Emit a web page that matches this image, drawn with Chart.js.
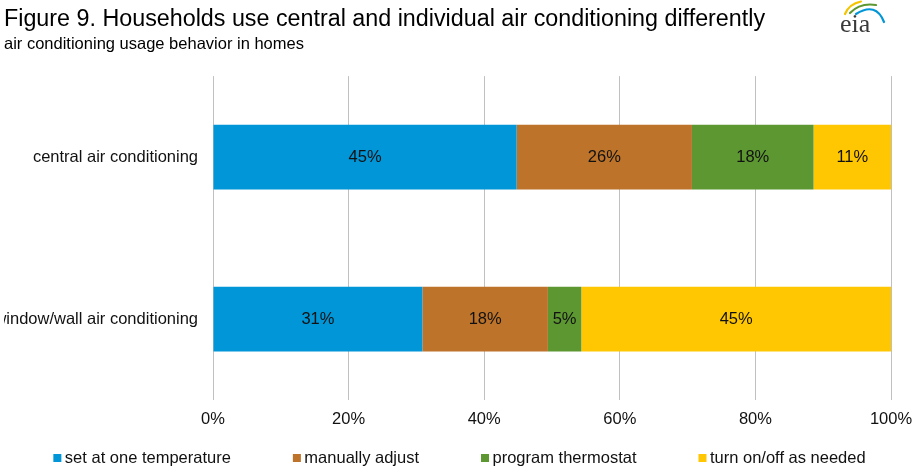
<!DOCTYPE html>
<html>
<head>
<meta charset="utf-8">
<script src="https://cdn.jsdelivr.net/npm/chart.js@4.4.1/dist/chart.umd.min.js"></script>
<style>
  html, body { margin: 0; padding: 0; background: #fff; }
  #wrap { width: 915px; height: 475px; }
</style>
</head>
<body>
<div id="wrap"><canvas id="acChart" width="915" height="475"></canvas></div>
<script>
// values (percent of households)
const categories = ["central air conditioning", "window/wall air conditioning"];
const setOneTemp = [44.7, 30.7];
const manualAdjust = [25.8, 18.4];
const programThermostat = [17.9, 4.9];
const turnOnOff = [11.4, 45.4];
const xTickValues = [0, 20, 40, 60, 80, 100];

const seriesNames = ["set at one temperature", "manually adjust", "program thermostat", "turn on/off as needed"];
const seriesValues = [setOneTemp, manualAdjust, programThermostat, turnOnOff];
const seriesColors = ["#0096d7", "#bd732a", "#5d9732", "#ffc702"];

const FONT = "'Liberation Sans', Arial, sans-serif";
const TXT = "#111";

// 100% stacked: each bar is drawn as share of its row total
const totals = categories.map((c, i) => seriesValues.reduce((s, arr) => s + arr[i], 0));

const datasets = seriesValues.map((vals, k) => ({
  label: seriesNames[k],
  data: vals.map((v, i) => v / totals[i] * 100),
  raw: vals,
  backgroundColor: seriesColors[k],
  borderWidth: 0,
  categoryPercentage: 1,
  barPercentage: 0.4
}));

// labels inside the bar segments
const barLabels = {
  id: "barLabels",
  afterDatasetsDraw(chart) {
    const ctx = chart.ctx;
    ctx.save();
    ctx.font = "16.5px " + FONT;
    ctx.fillStyle = TXT;
    ctx.textAlign = "center";
    ctx.textBaseline = "middle";
    chart.data.datasets.forEach((ds, k) => {
      chart.getDatasetMeta(k).data.forEach((bar, i) => {
        ctx.fillText(Math.round(ds.raw[i]) + "%", (bar.x + bar.base) / 2, bar.y);
      });
    });
    ctx.restore();
  }
};

// legend row at the bottom, spaced like the original
const bottomLegend = {
  id: "bottomLegend",
  afterDraw(chart) {
    const ctx = chart.ctx;
    ctx.save();
    ctx.font = "16.5px " + FONT;
    ctx.textBaseline = "middle";
    const gap = 62, box = 8, boxGap = 3.5, y = 458;
    const widths = chart.data.datasets.map(ds => box + boxGap + ctx.measureText(ds.label).width);
    const total = widths.reduce((a, b) => a + b, 0) + gap * (widths.length - 1);
    let x = 459.5 - total / 2;
    chart.data.datasets.forEach((ds, k) => {
      ctx.fillStyle = ds.backgroundColor;
      ctx.fillRect(x, y - box / 2, box, box);
      ctx.fillStyle = TXT;
      ctx.textAlign = "left";
      ctx.fillText(ds.label, x + box + boxGap, y);
      x += widths[k] + gap;
    });
    ctx.restore();
  }
};

// small eia mark, top right
const eiaMark = {
  id: "eiaMark",
  afterDraw(chart) {
    const ctx = chart.ctx;
    ctx.save();
    ctx.lineCap = "round";
    const arcs = [
      ["#f5c400", [845, 14], [849, 4], [861, 1.5]],
      ["#5d9732", [850, 13], [860, 2.5], [876, 5]],
      ["#0096d7", [856, 14], [876, 1.5], [884, 22]]
    ];
    arcs.forEach(([col, a, c, b]) => {
      ctx.strokeStyle = col;
      ctx.lineWidth = 2.2;
      ctx.beginPath();
      ctx.moveTo(a[0], a[1]);
      ctx.quadraticCurveTo(c[0], c[1], b[0], b[1]);
      ctx.stroke();
    });
    ctx.font = "26px 'Liberation Serif', 'DejaVu Serif', serif";
    ctx.fillStyle = "#3a3a3a";
    ctx.textBaseline = "alphabetic";
    ctx.fillText("eia", 840, 32);
    ctx.restore();
  }
};

new Chart(document.getElementById("acChart"), {
  type: "bar",
  data: { labels: categories, datasets: datasets },
  options: {
    indexAxis: "y",
    responsive: false,
    animation: false,
    layout: { padding: { left: 4, right: 24, top: 0, bottom: 43 } },
    plugins: {
      legend: { display: false },
      tooltip: { enabled: false },
      title: {
        display: true,
        text: "Figure 9. Households use central and individual air conditioning differently",
        align: "start",
        color: "#000",
        font: { family: FONT, size: 23.3, weight: "normal", lineHeight: 1 },
        padding: { top: 8, bottom: 0 }
      },
      subtitle: {
        display: true,
        text: "air conditioning usage behavior in homes",
        align: "start",
        color: "#000",
        font: { family: FONT, size: 16.5, weight: "normal", lineHeight: 1.2 },
        padding: { top: 3, bottom: 22 }
      }
    },
    scales: {
      x: {
        stacked: true,
        min: 0,
        max: 100,
        afterBuildTicks(scale) { scale.ticks = xTickValues.map(v => ({ value: v })); },
        afterFit(scale) {
          scale.height = 32;
          scale.paddingLeft = 0;
          scale.paddingRight = 0;
        },
        ticks: {
          padding: 10,
          color: TXT,
          font: { family: FONT, size: 16.5 },
          callback: v => v + "%"
        },
        grid: { color: "#c0c0c0", lineWidth: 1, drawTicks: false },
        border: { display: false }
      },
      y: {
        stacked: true,
        afterFit(scale) { scale.width = 209; },
        ticks: {
          padding: 15,
          color: TXT,
          font: { family: FONT, size: 16.5 }
        },
        grid: { display: false, drawTicks: false },
        border: { display: false }
      }
    }
  },
  plugins: [barLabels, bottomLegend, eiaMark]
});
</script>
</body>
</html>
